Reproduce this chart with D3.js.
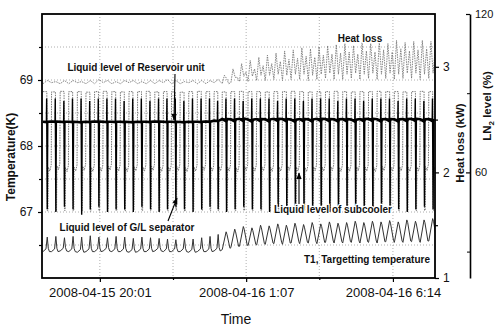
<!DOCTYPE html>
<html>
<head>
<meta charset="utf-8">
<script src="https://cdn.jsdelivr.net/npm/d3@7"></script>
<style>
body{margin:0;background:#fff;}
svg{display:block;font-family:"Liberation Sans",Arial,sans-serif;}
</style>
</head>
<body>
<div id="chart"></div>
<script>
// cycle starts, minutes after 2008-04-15 18:00
const cycleStart = [2,20,38,56,74,92,110,128,146,164, 182,200,218,236,254,271,289,307,325,343,
    360,377,395,413,431,449,467,485,503,521, 539,557,575,593,611,629,647,665,683,701,
    719,737,755,773,791,809];

// LN2 level (%) - reservoir unit, per cycle
const reservoir = [79.2,79.3,79.2,79.2,79.1,79.2,79.3,79.2,79.2,79.2, 79.1,79.2,79.2,79.3,79.2,79.2,79.1,79.2,79.2,79.3,
    79.6,80.2,80.1,80.3,80.0,80.2,80.1,80.3,80.2,80.0, 80.2,80.1,80.3,80.2,80.1,80.2,80.0,80.2,80.3,80.1,
    80.2,80.1,80.2,80.3,80.1,80.2];
// LN2 level (%) - G/L separator, spike top / bottom
const sepHigh = [88,88,87,88,88,87,88,88,88,87, 88,88,87,88,88,88,87,88,88,88,
    87,88,88,87,88,88,88,87,88,88, 87,88,88,88,87,88,88,87,88,88, 88,87,88,88,87,88];
const sepLow = [46,45,47,46,44,46,47,45,46,46, 45,47,46,45,46,47,46,45,46,47,
    46,45,46,47,46,46,45,47,46,45, 46,47,46,45,46,47,46,46,45,46, 47,46,45,46,47,46];
// LN2 level (%) - subcooler, high / low / middle
const subHigh = [90.6,90.5,90.7,90.6,90.6,90.4,90.6,90.7,90.6,90.5, 90.6,90.6,90.7,90.5,90.6,90.6,90.4,90.6,90.7,90.6,
    90.6,90.5,90.6,90.7,90.6,90.6,90.5,90.6,90.6,90.7, 90.6,90.5,90.6,90.6,90.7,90.6,90.5,90.6,90.6,90.7,
    90.6,90.6,90.5,90.6,90.7,90.6];
const subLow = [45.5,45.4,45.6,45.5,45.5,45.3,45.5,45.6,45.5,45.4, 45.5,45.5,45.6,45.4,45.5,45.5,45.3,45.5,45.6,45.5,
    45.5,45.4,45.5,45.6,45.5,45.5,45.4,45.5,45.5,45.6, 45.5,45.4,45.5,45.5,45.6,45.5,45.4,45.5,45.5,45.6,
    45.5,45.5,45.4,45.5,45.6,45.5];
const subMid = [62,62.5,61.8,62,62.3,61.9,62,62.4,62,61.8, 62.1,62,62.3,61.9,62,62.2,61.8,62,62.3,62,
    62.1,62,61.8,62.2,62,62.1,61.9,62,62.3,62, 61.8,62.1,62,62.2,61.9,62,62.1,62,61.8,62.2,
    62,62.1,61.9,62,62.2,62];
// T1, targetting temperature (K)
const t1Peak = [66.62,66.63,66.61,66.63,66.62,66.64,66.62,66.61,66.63,66.62, 66.60,66.62,66.61,66.60,66.59,66.58,66.60,66.59,66.61,66.63,
    66.66,66.70,66.74,66.78,66.76,66.80,66.79,66.82,66.80,66.83, 66.81,66.84,66.82,66.85,66.83,66.84,66.86,66.84,66.86,66.85,
    66.87,66.85,66.88,66.86,66.88,66.90];
const t1Base = [66.40,66.40,66.41,66.40,66.39,66.40,66.40,66.41,66.40,66.40, 66.39,66.40,66.40,66.41,66.40,66.40,66.40,66.39,66.40,66.40,
    66.41,66.43,66.46,66.48,66.49,66.50,66.51,66.52,66.51,66.53, 66.52,66.53,66.52,66.54,66.53,66.53,66.54,66.53,66.54,66.53,
    66.55,66.54,66.54,66.55,66.54,66.56];
// heat loss (kW)
const heatPeak = [2.87,2.86,2.87,2.87,2.86,2.87,2.88,2.87,2.86,2.87, 2.87,2.86,2.87,2.87,2.88,2.87,2.86,2.87,2.87,2.87,
    2.88,2.92,2.98,3.03,3.06,3.09,3.11,3.13,3.15,3.16, 3.18,3.17,3.19,3.20,3.21,3.22,3.20,3.23,3.22,3.24,
    3.22,3.25,3.23,3.24,3.25,3.24];
const heatBase = [2.84,2.85,2.84,2.84,2.85,2.84,2.84,2.85,2.84,2.84, 2.85,2.84,2.84,2.84,2.85,2.84,2.84,2.85,2.84,2.84,
    2.85,2.84,2.85,2.86,2.86,2.87,2.87,2.88,2.87,2.88, 2.88,2.87,2.88,2.89,2.88,2.88,2.89,2.88,2.89,2.88,
    2.89,2.88,2.89,2.89,2.88,2.89];
const changeCycle = 21; // control change near 00:12

const xTicks = ['2008-04-15 20:01','2008-04-16 1:07','2008-04-16 6:14'];
const xMinor = ['2008-04-15 22:34','2008-04-16 3:40'];

const W = 496, H = 328;
const m = {l:42, r:435, t:14, b:278};
const t0 = new Date(2008,3,15,18,0);
const tm = mins => new Date(t0.getTime() + mins*60000);
const parse = d3.timeParse('%Y-%m-%d %H:%M');
const fmt = d3.timeFormat('%Y-%m-%d %-H:%M');

const x = d3.scaleTime().domain([tm(0), tm(822)]).range([m.l, m.r]);
const yT = d3.scaleLinear().domain([66,70]).range([m.b, m.t]);
const yH = d3.scaleLinear().domain([1,3.5]).range([m.b, m.t]);
const yL = d3.scaleLinear().domain([20,120]).range([m.b, m.t]);

const svg = d3.select('#chart').append('svg').attr('width',W).attr('height',H);
const defs = svg.append('defs');
defs.append('clipPath').attr('id','plot').append('rect')
    .attr('x',m.l).attr('y',m.t).attr('width',m.r-m.l).attr('height',m.b-m.t);
defs.append('marker').attr('id','arr')
    .attr('viewBox','0 0 10 10').attr('refX',9).attr('refY',5)
    .attr('markerWidth',6).attr('markerHeight',6).attr('orient','auto')
  .append('path').attr('d','M0,1L10,5L0,9z').attr('fill','#000');

// grid
const grid = svg.append('g').attr('stroke','#9a9a9a').attr('stroke-width',0.8).attr('stroke-dasharray','1,2');
grid.selectAll('.hg').data([66.5,67,67.5,68,68.5,69,69.5]).enter().append('line')
    .attr('x1',m.l).attr('x2',m.r).attr('y1',d=>yT(d)).attr('y2',d=>yT(d));
grid.selectAll('.vg').data(xTicks.concat(xMinor).map(parse)).enter().append('line')
    .attr('y1',m.t).attr('y2',m.b).attr('x1',d=>x(d)).attr('x2',d=>x(d));

// series
const period = i => (i < cycleStart.length-1 ? cycleStart[i+1] : cycleStart[i]+18) - cycleStart[i];
const plot = svg.append('g').attr('clip-path','url(#plot)');
const lineOn = sc => d3.line().x(d=>x(tm(d[0]))).y(d=>sc(d[1]));

let heat = cycleStart.flatMap((s,i)=>{
    let p = period(i), b = heatBase[i], k = heatPeak[i];
    if(i < changeCycle) return [[s,b],[s+0.5*p,k]];
    return [[s,b],[s+0.25*p,k],[s+0.5*p,b+0.05],[s+0.75*p,k-0.08]];
});
let sub = cycleStart.flatMap((s,i)=>{
    let p = period(i);
    return [[s,subHigh[i]],[s+0.45*p,subHigh[i]],[s+0.5*p,subLow[i]],[s+0.58*p,subLow[i]],
            [s+0.62*p,subMid[i]],[s+0.8*p,subMid[i]-1.5],[s+0.96*p,subMid[i]+0.8]];
});
let t1 = cycleStart.flatMap((s,i)=>{
    let p = period(i), b = t1Base[i], k = t1Peak[i];
    if(i < changeCycle) return [[s,b],[s+0.35*p,b+0.04],[s+0.5*p,k],[s+0.62*p,b+0.05],[s+0.75*p,b]];
    return [[s,b],[s+0.45*p,k],[s+0.55*p,k-0.04],[s+0.9*p,b+0.02]];
});
let sep = cycleStart.flatMap((s,i)=>{
    let p = period(i), r = reservoir[i];
    return [[s,r],[s+0.4*p,r],[s+0.43*p,sepHigh[i]],[s+0.5*p,sepLow[i]],[s+0.56*p,r]];
});
let res = cycleStart.flatMap((s,i)=>{
    let p = period(i), r = reservoir[i];
    let dip = i < changeCycle ? 0.15 : 0.8;
    return [[s,r],[s+0.45*p,r-dip],[s+0.6*p,r]];
});

plot.append('path').attr('d',lineOn(yH)(heat)).attr('fill','none')
    .attr('stroke','#777').attr('stroke-width',0.9).attr('stroke-dasharray','1.5,1');
plot.append('path').attr('d',lineOn(yL)(sub)).attr('fill','none')
    .attr('stroke','#777').attr('stroke-width',1).attr('stroke-dasharray','1.5,1');
plot.append('path').attr('d',lineOn(yT)(t1)).attr('fill','none')
    .attr('stroke','#333').attr('stroke-width',1);
plot.append('path').attr('d',lineOn(yL)(sep)).attr('fill','none')
    .attr('stroke','#000').attr('stroke-width',1.4);
plot.append('path').attr('d',lineOn(yL)(res)).attr('fill','none')
    .attr('stroke','#000').attr('stroke-width',2.6);

// frame
svg.append('rect').attr('x',m.l).attr('y',m.t).attr('width',m.r-m.l).attr('height',m.b-m.t)
    .attr('fill','none').attr('stroke','#000').attr('stroke-width',1.8);

const styleAxis = (g, size) => {
    g.select('.domain').remove();
    g.selectAll('text').attr('font-size',size || 12).attr('fill','#111')
        .attr('font-family','"Liberation Sans",Arial,sans-serif');
    g.selectAll('line').attr('stroke','#000').attr('stroke-width',1.2);
};

// left temperature axis
svg.append('g').attr('transform',`translate(${m.l},0)`)
    .call(d3.axisLeft(yT).tickValues([67,68,69]).tickSize(4).tickPadding(5).tickFormat(d3.format('d')))
    .call(styleAxis);
svg.append('g').attr('transform',`translate(${m.l},0)`)
    .call(d3.axisLeft(yT).tickValues([66.5,67.5,68.5,69.5]).tickSize(3).tickFormat(''))
    .call(styleAxis);

// heat loss axis
svg.append('g').attr('transform',`translate(${m.r},0)`)
    .call(d3.axisRight(yH).tickValues([1,2,3]).tickSize(4).tickPadding(4).tickFormat(d3.format('d')))
    .call(styleAxis);
svg.append('g').attr('transform',`translate(${m.r},0)`)
    .call(d3.axisRight(yH).tickValues([1.5,2.5]).tickSize(3).tickFormat(''))
    .call(styleAxis);

// LN2 level axis
const lnAxis = svg.append('g').attr('transform','translate(470,0)')
    .call(d3.axisRight(yL).tickValues([60,120]).tickSizeInner(-4).tickSizeOuter(0).tickPadding(5).tickFormat(d3.format('d')));
lnAxis.select('.domain').attr('stroke','#000').attr('stroke-width',1.6);
lnAxis.selectAll('text').attr('font-size',11).attr('fill','#111');
lnAxis.selectAll('line').attr('stroke','#000').attr('stroke-width',1.2);
svg.append('g').attr('transform','translate(470,0)')
    .call(d3.axisRight(yL).tickValues([30,90]).tickSizeInner(-3).tickSizeOuter(0).tickFormat(''))
    .call(g=>g.select('.domain').remove())
    .selectAll('line').attr('stroke','#000');

// time axis
svg.append('g').attr('transform',`translate(0,${m.b})`)
    .call(d3.axisBottom(x).tickValues(xTicks.map(parse)).tickSize(4).tickPadding(6).tickFormat(fmt))
    .call(styleAxis, 13);
svg.append('g').attr('transform',`translate(0,${m.b})`)
    .call(d3.axisBottom(x).tickValues(xMinor.map(parse)).tickSize(2).tickFormat(''))
    .call(styleAxis);

// axis titles
svg.append('text').attr('x',236).attr('y',324).attr('text-anchor','middle')
    .attr('font-size',14).attr('fill','#111').text('Time');
svg.append('text').attr('transform','translate(15,157) rotate(-90)').attr('text-anchor','middle')
    .attr('font-size',12).attr('font-weight','bold').attr('fill','#111').text('Temperature(K)');
svg.append('text').attr('transform','translate(464,143) rotate(-90)').attr('text-anchor','middle')
    .attr('font-size',11.5).attr('font-weight','bold').attr('fill','#111').text('Heat loss (kW)');
const ln = svg.append('text').attr('transform','translate(491,106) rotate(-90)').attr('text-anchor','middle')
    .attr('font-size',11.5).attr('font-weight','bold').attr('fill','#111');
ln.append('tspan').text('LN');
ln.append('tspan').attr('font-size',8).attr('dy',3).text('2');
ln.append('tspan').attr('dy',-3).text(' level (%)');

// annotations
const notes = [
    {t:'Liquid level of Reservoir unit', x:136, y:71},
    {t:'Heat loss', x:360, y:42},
    {t:'Liquid level of G/L separator', x:127, y:231},
    {t:'Liquid level of subcooler', x:333, y:213},
    {t:'T1, Targetting temperature', x:367, y:263}
];
svg.append('g').selectAll('text').data(notes).enter().append('text')
    .attr('x',d=>d.x).attr('y',d=>d.y).attr('text-anchor','middle')
    .attr('font-size',10).attr('font-weight','bold').attr('fill','#111')
    .attr('stroke','#fff').attr('stroke-width',2.5).attr('paint-order','stroke')
    .text(d=>d.t);

const arrows = [[175,74,174,120],[168,221,177,198],[299,204,299,173]];
svg.append('g').selectAll('line').data(arrows).enter().append('line')
    .attr('x1',d=>d[0]).attr('y1',d=>d[1]).attr('x2',d=>d[2]).attr('y2',d=>d[3])
    .attr('stroke','#000').attr('stroke-width',1.1).attr('marker-end','url(#arr)');
</script>
</body>
</html>
